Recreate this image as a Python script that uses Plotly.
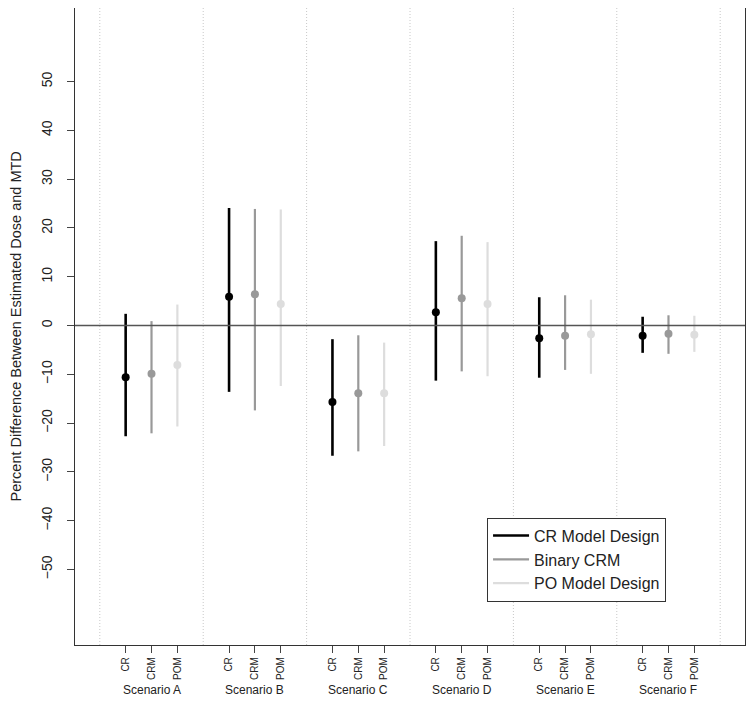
import plotly.graph_objects as go

scenarios = ["Scenario A", "Scenario B", "Scenario C", "Scenario D", "Scenario E", "Scenario F"]
designs = ["CR", "CRM", "POM"]
legend_names = ["CR Model Design", "Binary CRM", "PO Model Design"]
colors = ["#000000", "#999999", "#dddddd"]
widths = [2.6, 2.2, 2.2]

# point estimates per design across scenarios A..F
est_cr = [-10.6, 5.9, -15.7, 2.7, -2.6, -2.1]
est_crm = [-9.9, 6.4, -13.9, 5.6, -2.1, -1.7]
est_pom = [-8.1, 4.4, -13.9, 4.4, -1.8, -1.9]
# lower / upper bounds
lo_cr = [-22.7, -13.6, -26.7, -11.3, -10.7, -5.6]
hi_cr = [2.4, 24.1, -2.8, 17.3, 5.8, 1.8]
lo_crm = [-22.1, -17.4, -25.8, -9.4, -9.1, -5.8]
hi_crm = [0.9, 23.9, -2.0, 18.4, 6.2, 2.1]
lo_pom = [-20.7, -12.4, -24.7, -10.4, -9.9, -5.4]
hi_pom = [4.3, 23.8, -3.5, 17.1, 5.3, 2.0]

y_ticks = [-50, -40, -30, -20, -10, 0, 10, 20, 30, 40, 50]

ests = [est_cr, est_crm, est_pom]
los = [lo_cr, lo_crm, lo_pom]
his = [hi_cr, hi_crm, hi_pom]

fig = go.Figure()

tickvals, ticktext = [], []
for d in range(3):
    xs_line, ys_line, xs_pt = [], [], []
    for s in range(len(scenarios)):
        x = 4 * s + d + 1
        xs_line += [x, x, None]
        ys_line += [los[d][s], his[d][s], None]
        xs_pt.append(x)
    fig.add_trace(go.Scatter(x=xs_line, y=ys_line, mode="lines",
                             line=dict(color=colors[d], width=widths[d]),
                             showlegend=False, hoverinfo="skip"))
    fig.add_trace(go.Scatter(x=xs_pt, y=ests[d], mode="markers",
                             marker=dict(color=colors[d], size=8),
                             showlegend=False))

for s in range(len(scenarios)):
    for d in range(3):
        tickvals.append(4 * s + d + 1)
        ticktext.append(designs[d])

# legend-only traces
for d in range(3):
    fig.add_trace(go.Scatter(x=[None], y=[None], mode="lines", name=legend_names[d],
                             line=dict(color=colors[d], width=widths[d])))

shapes = []
for i in range(len(scenarios) + 1):
    shapes.append(dict(type="line", xref="x", yref="paper", x0=4 * i, x1=4 * i, y0=0, y1=1,
                       line=dict(color="#c8c8c8", width=1, dash="1px,2px"), layer="below"))
shapes.append(dict(type="line", xref="paper", yref="y", x0=0, x1=1, y0=0, y1=0,
                   line=dict(color="#555555", width=1.3)))

annotations = []
for s, name in enumerate(scenarios):
    annotations.append(dict(x=4 * s + 2, y=0, xref="x", yref="paper", yshift=-45,
                            text=name, showarrow=False, yanchor="middle",
                            font=dict(size=12, color="#222222")))
annotations.append(dict(x=0, y=0.5, xref="paper", yref="paper", xshift=-60,
                        text="Percent Difference Between Estimated Dose and MTD",
                        textangle=-90, showarrow=False, xanchor="center", yanchor="middle",
                        font=dict(size=14.5, color="#222222")))

fig.update_layout(
    width=746, height=714,
    margin=dict(l=67, r=9, t=0, b=77),
    plot_bgcolor="white", paper_bgcolor="white",
    font=dict(family="Liberation Sans, Arial, sans-serif", color="#222222"),
    shapes=shapes, annotations=annotations,
    legend=dict(x=0.615, y=0.2, xanchor="left", yanchor="top",
                bordercolor="#333333", borderwidth=1, bgcolor="white",
                font=dict(size=16), tracegroupgap=0, itemwidth=36),
    showlegend=True,
)
fig.update_xaxes(range=[-0.96, 24.96], tickvals=tickvals, ticktext=ticktext,
                 tickangle=-90, tickfont=dict(size=10), ticks="outside", ticklen=7,
                 showgrid=False, zeroline=False, showline=True, mirror=True,
                 linecolor="#333333", linewidth=1.3, automargin=False)
fig.update_yaxes(range=[-65.5, 65.1], tickvals=y_ticks, tickangle=-90,
                 tickfont=dict(size=14), ticks="outside", ticklen=7, ticklabelstandoff=9,
                 showgrid=False, zeroline=False, showline=True, mirror=True,
                 linecolor="#333333", linewidth=1.3, automargin=False)

fig.write_html("out.html")
